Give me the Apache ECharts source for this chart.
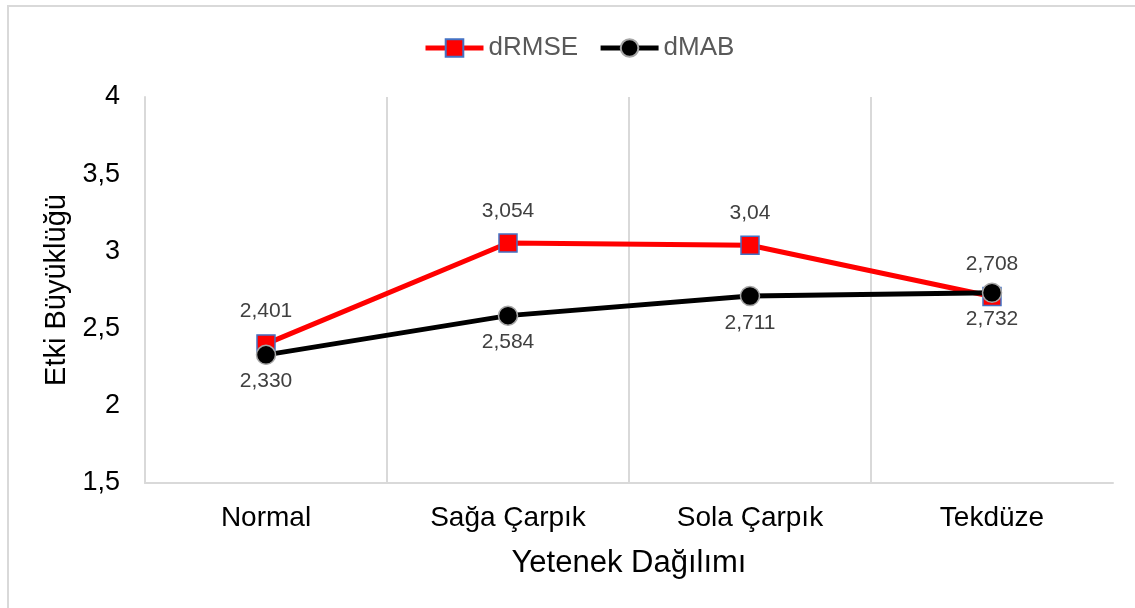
<!DOCTYPE html>
<html>
<head>
<meta charset="utf-8">
<script src="https://cdn.jsdelivr.net/npm/echarts@6/dist/echarts.min.js"></script>
<style>
html, body { margin: 0; padding: 0; background: #fff; }
#chart { width: 1135px; height: 608px; }
</style>
</head>
<body>
<div id="chart"></div>
<script>
let categories = ['Normal', 'Sağa Çarpık', 'Sola Çarpık', 'Tekdüze'];
let drmseValues = [2.401, 3.054, 3.04, 2.708];
let dmabValues = [2.330, 2.584, 2.711, 2.732];
let drmseLabels = ['2,401', '3,054', '3,04', '2,708'];
let dmabLabels = ['2,330', '2,584', '2,711', '2,732'];

let chart = echarts.init(document.getElementById('chart'));

function seriesData(values, labels, pos) {
    return values.map(function (v, i) {
        return { value: v, label: { position: pos, formatter: labels[i] } };
    });
}

chart.setOption({
    animation: false,
    textStyle: { fontFamily: 'Liberation Sans, Arial, sans-serif' },
    graphic: [{
        type: 'rect',
        shape: { x: 8, y: 6, width: 1140, height: 620 },
        style: { fill: 'none', stroke: '#d9d9d9', lineWidth: 2 },
        silent: true
    }],
    legend: {
        top: 30,
        left: 418,
        itemWidth: 58,
        itemHeight: 22,
        itemGap: 20,
        itemTextGap: 4,
        lineStyle: { width: 5 },
        textStyle: { fontSize: 26, color: '#595959' },
        data: ['dRMSE', 'dMAB']
    },
    grid: { left: 145, right: 22, top: 97, bottom: 125 },
    xAxis: {
        type: 'category',
        data: categories,
        boundaryGap: true,
        axisLine: { lineStyle: { color: '#d9d9d9', width: 2 } },
        axisTick: { show: false },
        splitLine: { show: true, showMinLine: false, showMaxLine: false, lineStyle: { color: '#d9d9d9', width: 2 } },
        axisLabel: { fontSize: 28, color: '#000', margin: 21 },
        name: 'Yetenek Dağılımı',
        nameLocation: 'middle',
        nameGap: 65,
        nameTextStyle: { fontSize: 31, color: '#000' }
    },
    yAxis: {
        type: 'value',
        min: 1.5,
        max: 4,
        interval: 0.5,
        axisLine: { show: true, lineStyle: { color: '#d9d9d9', width: 2 } },
        axisTick: { show: false },
        splitLine: { show: false },
        axisLabel: {
            fontSize: 27,
            color: '#000',
            margin: 25,
            formatter: function (v) { return String(v).replace('.', ','); }
        },
        name: 'Etki Büyüklüğü',
        nameLocation: 'middle',
        nameGap: 73,
        nameTextStyle: { fontSize: 29, color: '#000' }
    },
    series: [
        {
            name: 'dRMSE',
            type: 'line',
            data: seriesData(drmseValues, drmseLabels, 'top'),
            symbol: 'rect',
            symbolSize: 18,
            lineStyle: { color: '#ff0000', width: 5 },
            itemStyle: { color: '#ff0000', borderColor: '#4472c4', borderWidth: 1.5 },
            label: { show: true, distance: 12, fontSize: 21, color: '#404040' },
            z: 2
        },
        {
            name: 'dMAB',
            type: 'line',
            data: seriesData(dmabValues, dmabLabels, 'bottom'),
            symbol: 'circle',
            symbolSize: 19,
            lineStyle: { color: '#000000', width: 5 },
            itemStyle: { color: '#000000', borderColor: '#a6a6a6', borderWidth: 1.5 },
            label: { show: true, distance: 6, fontSize: 21, color: '#404040' },
            z: 3
        }
    ]
});
</script>
</body>
</html>
